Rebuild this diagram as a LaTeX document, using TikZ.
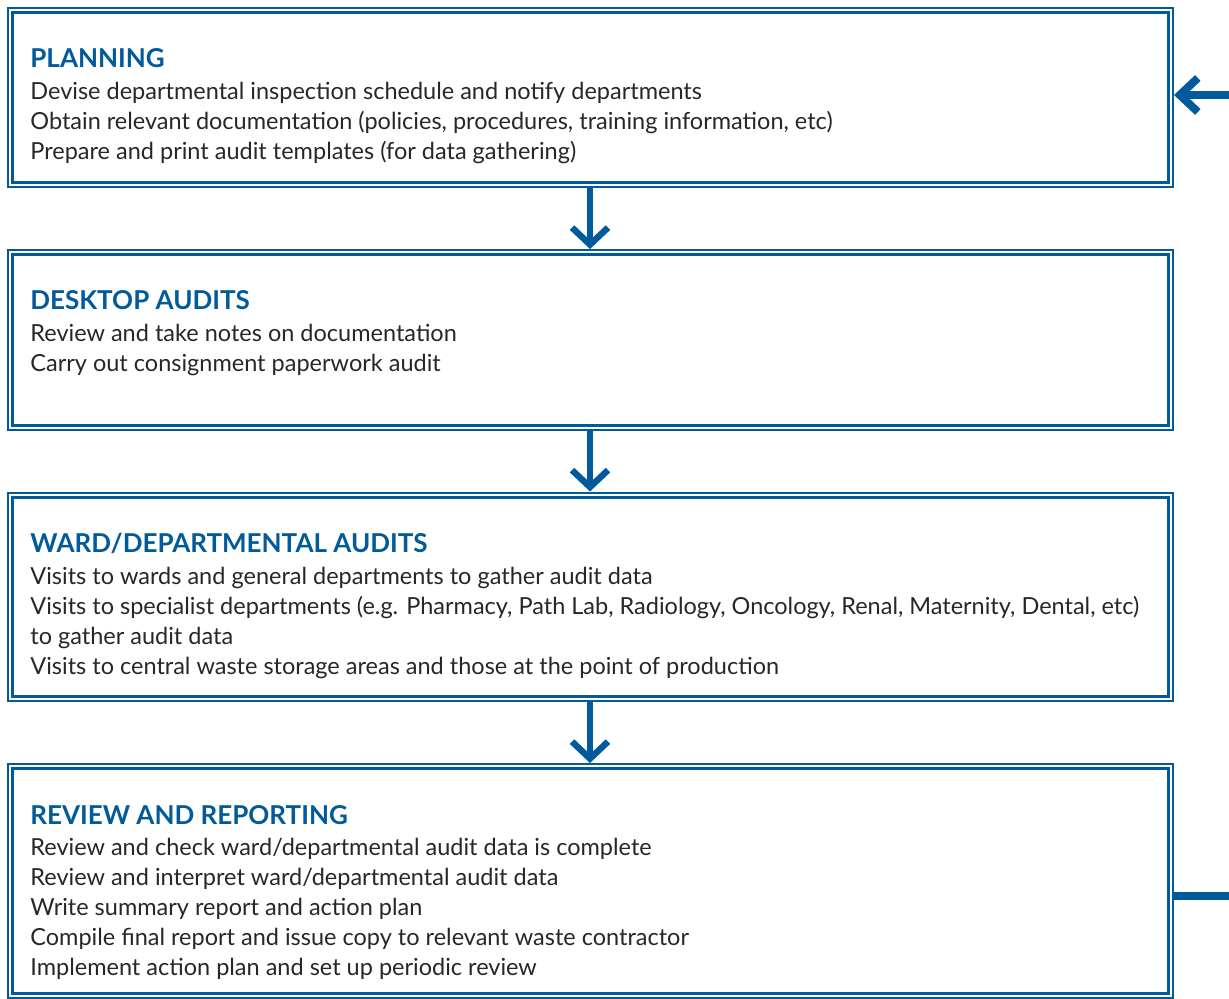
\documentclass[tikz,border=0pt]{standalone}
\usepackage{fontspec}
\setmainfont{Lato}
\usetikzlibrary{arrows.meta,fit}
\definecolor{flowblue}{RGB}{0,90,156}
\definecolor{bodytext}{RGB}{40,38,38}
\begin{document}
\begin{tikzpicture}[x=0.5pt,y=-0.5pt,
  outerbox/.style={draw=flowblue, line width=1pt, inner sep=0pt},
  innerline/.style={draw=flowblue, line width=1.5pt},
  head/.style={anchor=base west, inner sep=0pt, text=flowblue, font=\fontsize{13}{15}\selectfont\bfseries},
  body/.style={anchor=base west, inner sep=0pt, text=bodytext, font=\fontsize{11.75}{14}\selectfont},
  flow/.style={draw=flowblue, line width=3.2pt, -{Straight Barb[length=8.5pt,width=18pt]}},
  loop/.style={draw=flowblue, line width=4pt}]
\useasboundingbox (0,0) rectangle (1229,999);
% boxes
\node[outerbox, fit={(8,8) (1173,187.5)}] (plan) {};
\node[outerbox, fit={(8,250) (1173,430)}] (desk) {};
\node[outerbox, fit={(8,492.5) (1173,701)}] (ward) {};
\node[outerbox, fit={(8,764) (1173,997.5)}] (rev) {};
\foreach \b in {plan,desk,ward,rev}{
  \draw[innerline] ([xshift=2.75pt,yshift=-2.75pt]\b.north west) rectangle ([xshift=-2.75pt,yshift=2.75pt]\b.south east);
}
% texts
\node[head] (h1) at (30,68) {PLANNING};
\node[body] (t11) at (30,99.5) {Devise departmental inspection schedule and notify departments};
\node[body] (t12) at (30,129.5) {Obtain relevant documentation (policies, procedures, training information, etc)};
\node[body] (t13) at (30,159.5) {Prepare and print audit templates (for data gathering)};

\node[head] (h2) at (30,310) {DESKTOP AUDITS};
\node[body] (t21) at (30,341.5) {Review and take notes on documentation};
\node[body] (t22) at (30,371.5) {Carry out consignment paperwork audit};

\node[head] (h3) at (30,552) {WARD/DEPARTMENTAL AUDITS};
\node[body] (t31) at (30,584) {Visits to wards and general departments to gather audit data};
\node[body] (t32) at (30,614) {Visits to specialist departments (e.g. Pharmacy, Path Lab, Radiology, Oncology, Renal, Maternity, Dental, etc)};
\node[body] (t33) at (30,644) {to gather audit data};
\node[body] (t34) at (30,674) {Visits to central waste storage areas and those at the point of production};

\node[head] (h4) at (30,824) {REVIEW AND REPORTING};
\node[body] (t41) at (30,855.5) {Review and check ward/departmental audit data is complete};
\node[body] (t42) at (30,885.5) {Review and interpret ward/departmental audit data};
\node[body] (t43) at (30,915.5) {Write summary report and action plan};
\node[body] (t44) at (30,945.5) {Compile final report and issue copy to relevant waste contractor};
\node[body] (t45) at (30,975.5) {Implement action plan and set up periodic review};
% connectors
\coordinate (c1) at (590,0);
\draw[flow] (plan.south -| c1) -- (desk.north -| c1);
\draw[flow] (desk.south -| c1) -- (ward.north -| c1);
\draw[flow] (ward.south -| c1) -- (rev.north -| c1);
% loop back (leaves the picture on the right)
\coordinate (loopout) at (1229,896);
\coordinate (loopin) at (1229,95);
\draw[loop] (rev.east |- loopout) -- (loopout);
\draw[loop, -{Straight Barb[length=9pt,width=17pt]}] (loopin) -- (plan.east |- loopin);
\end{tikzpicture}
\end{document}
